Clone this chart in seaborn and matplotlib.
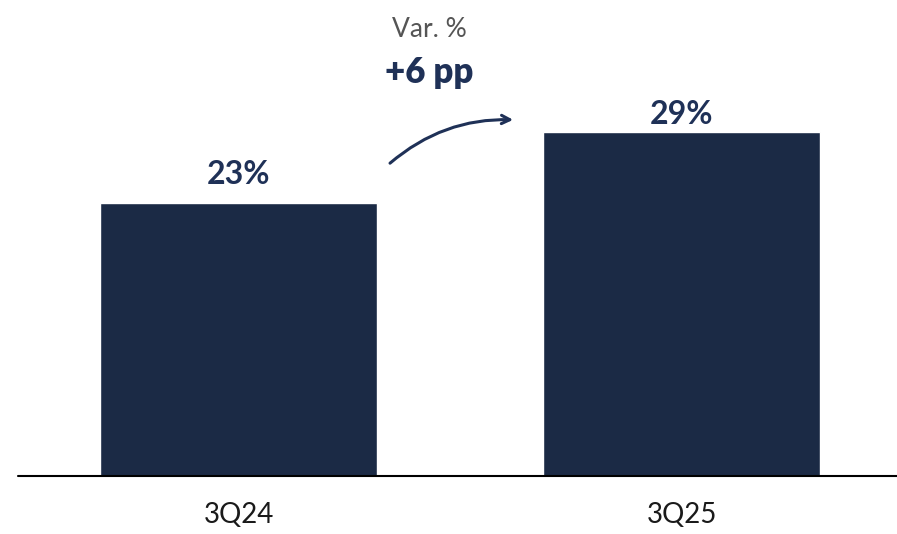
import pandas as pd
import seaborn as sns
import matplotlib.pyplot as plt

# chart data
quarters = ['3Q24', '3Q25']
margin_pct = [23, 29]
change_label = '+6 pp'
change_title = 'Var. %'

# label gap above each bar (points), as in the source slide
label_offsets = [10, 2]

navy = '#1b2a45'
text_navy = '#1f3157'

sns.set_theme(style='white')
plt.rcParams['font.family'] = ['Lato', 'DejaVu Sans']

df = pd.DataFrame({'Quarter': quarters, 'Value': margin_pct})

fig = plt.figure(figsize=(8.97, 5.34), dpi=100)
ax = fig.add_axes([0.02, 0.1086, 0.98, 0.8914])

sns.barplot(data=df, x='Quarter', y='Value', color=navy, saturation=1,
            width=0.625, ax=ax)

ax.set_xlim(-0.498, 1.486)
ax.set_ylim(0, 40.1)
for s in ax.spines.values():
    s.set_visible(False)
ax.axhline(0, color='black', lw=1.5, clip_on=False)
ax.set_yticks([])
ax.set_xlabel('')
ax.set_ylabel('')
ax.tick_params(axis='x', length=0, pad=19, labelsize=20, labelcolor='#1a1a1a')

# value labels
for i, v in enumerate(margin_pct):
    ax.annotate(f'{v}%', (i, v), xytext=(0, label_offsets[i]),
                textcoords='offset points', ha='center', va='bottom',
                fontsize=23, fontweight='bold', color=text_navy)

# variation annotation
ax.text(0.43, 37.6, change_title, ha='center', va='center', fontsize=19,
        color='#555555')
ax.text(0.43, 34.0, change_label, ha='center', va='center', fontsize=25,
        fontweight='heavy', color=text_navy)
ax.annotate('', xy=(0.626, 30.0), xytext=(0.337, 26.2),
            arrowprops=dict(arrowstyle='->,head_length=0.5,head_width=0.25',
                            color=text_navy, lw=2.2,
                            connectionstyle='arc3,rad=-0.2'))

fig.savefig('out.png', dpi=100)
